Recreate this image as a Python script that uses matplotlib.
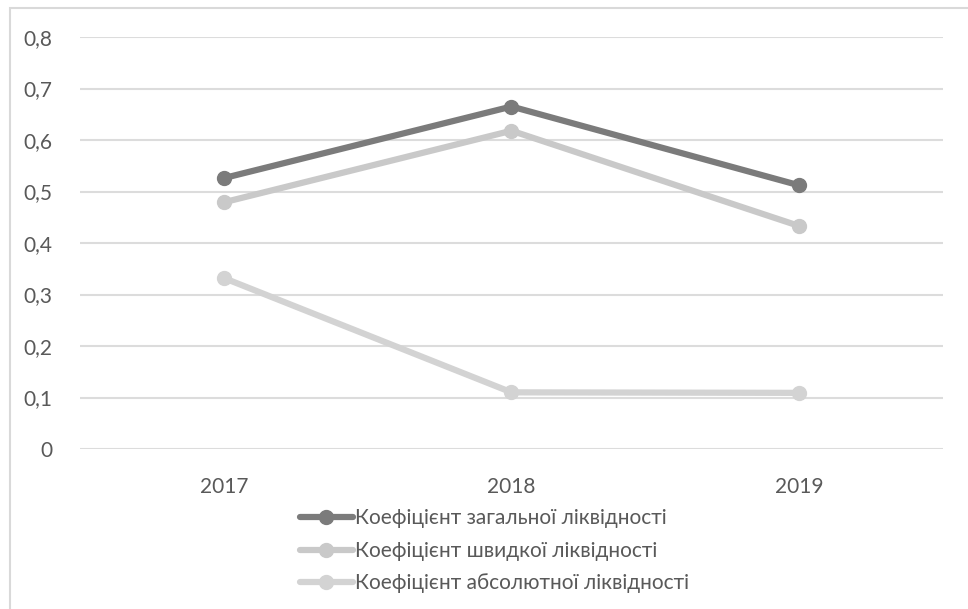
import matplotlib.pyplot as plt
from matplotlib.patches import Rectangle

years = ["2017", "2018", "2019"]
general = [0.526, 0.665, 0.512]
quick = [0.479, 0.618, 0.433]
absolute = [0.332, 0.110, 0.109]
labels = [
    "Коефіцієнт загальної ліквідності",
    "Коефіцієнт швидкої ліквідності",
    "Коефіцієнт абсолютної ліквідності",
]
colors = ["#7b7b7b", "#c9c9c9", "#d3d3d3"]
yticks = [0, 0.1, 0.2, 0.3, 0.4, 0.5, 0.6, 0.7, 0.8]

plt.rcParams["font.family"] = ["Lato", "DejaVu Sans"]

fig = plt.figure(figsize=(9.68, 6.09), dpi=100)
ax = fig.add_axes([80 / 968, 160 / 609, 863 / 968, 412 / 609])

x = list(range(len(years)))
for series, lab, c in zip([general, quick, absolute], labels, colors):
    ax.plot(x, series, color=c, lw=4.5, marker="o", ms=10, label=lab,
            solid_capstyle="round")

ax.set_xlim(-0.5, 2.5)
ax.set_ylim(0, 0.8)
ax.set_yticks(yticks)
ax.set_yticklabels([("%g" % v).replace(".", ",") for v in yticks])
ax.set_xticks(x)
ax.set_xticklabels(years)
ax.grid(axis="y", color="#dcdcdc", lw=1.5)
ax.set_axisbelow(True)
for s in ax.spines.values():
    s.set_visible(False)
ax.tick_params(length=0, labelsize=15, colors="#595959", pad=20)
ax.tick_params(axis="x", pad=20)

leg = fig.legend(loc="upper left", bbox_to_anchor=(290 / 968, 1 - 498 / 609),
                 frameon=False, fontsize=15, handlelength=2.5, handletextpad=0.1,
                 labelspacing=0.6, borderpad=0)
for t in leg.get_texts():
    t.set_color("#595959")

fig.patches.append(Rectangle((10 / 968, -0.05), 2, 1.05 - 8 / 609, transform=fig.transFigure,
                             fill=False, ec="#d9d9d9", lw=1.5))

fig.savefig("out.png", dpi=100)
